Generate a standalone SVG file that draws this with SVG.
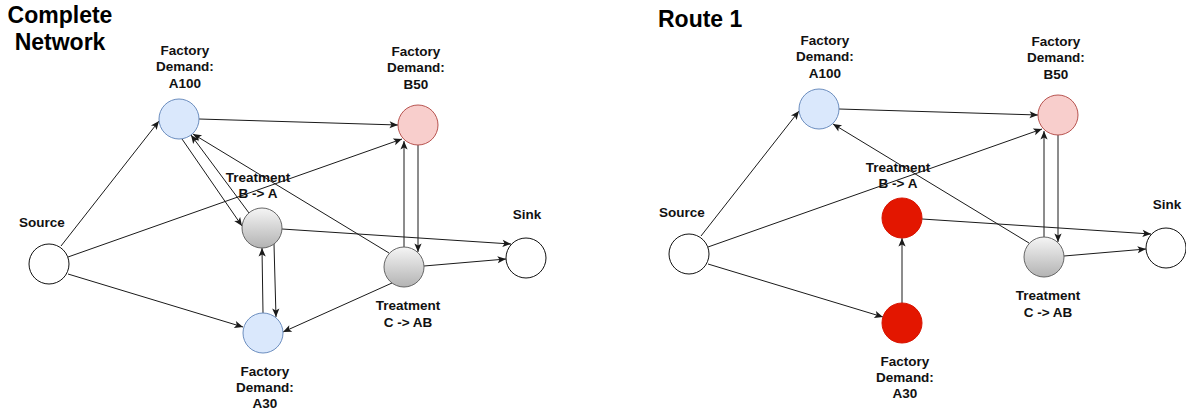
<svg xmlns="http://www.w3.org/2000/svg" width="1186" height="414" viewBox="0 0 1186 414">
  <style>
    .lbl{font-family:"Liberation Sans",Arial,sans-serif;font-weight:bold;font-size:13.5px;fill:#111;text-anchor:middle}
    .title{font-family:"Liberation Sans",Arial,sans-serif;font-weight:bold;font-size:23px;fill:#000}
    .edge{fill:none;stroke:#1a1a1a;stroke-width:1;marker-end:url(#arrow)}
    .plain{fill:#fff;stroke:#111;stroke-width:1}
    .blue{fill:#dae8fc;stroke:#6c8ebf;stroke-width:1}
    .pink{fill:#f8cecc;stroke:#b85450;stroke-width:1}
    .gray{fill:url(#grayGrad);stroke:#666;stroke-width:1}
    .red{fill:#e31600;stroke:#d81300;stroke-width:1}
  </style>
  <defs>
    <linearGradient id="grayGrad" x1="0" y1="0" x2="0" y2="1">
      <stop offset="0" stop-color="#f5f5f5"/>
      <stop offset="1" stop-color="#b3b3b3"/>
    </linearGradient>
    <marker id="arrow" viewBox="-10 -5 11 10" refX="0" refY="0" markerWidth="11" markerHeight="10" markerUnits="userSpaceOnUse" orient="auto">
      <path d="M-8.5,-3.6 L0,0 L-8.5,3.6 L-6.5,0 Z" fill="#1a1a1a"/>
    </marker>
  </defs>

  <rect width="1186" height="414" fill="#fff"/>

  <!-- panel titles -->
  <text class="title" x="60" y="23" text-anchor="middle">Complete</text>
  <text class="title" x="60" y="50" text-anchor="middle">Network</text>
  <text class="title" x="658" y="27">Route 1</text>

  <!-- ===== Complete network ===== -->
  <g id="full-edges">
    <path class="edge" d="M61,246 L159,121"/>
    <path class="edge" d="M68,257 L402,139"/>
    <path class="edge" d="M68,274 L243,327"/>
    <path class="edge" d="M199,119 L398,125"/>
    <path class="edge" d="M182,139 L242,226"/>
    <path class="edge" d="M249,213 L191,135"/>
    <path class="edge" d="M389,253 L193,134"/>
    <path class="edge" d="M282,229 L511,244"/>
    <path class="edge" d="M424,266 L506,259"/>
    <path class="edge" d="M404,247 L404,141"/>
    <path class="edge" d="M418,145 L418,252"/>
    <path class="edge" d="M274,244 L276,317"/>
    <path class="edge" d="M263,313 L262,248"/>
    <path class="edge" d="M392,283 L283,332"/>
  </g>

  <g id="full-source">
    <circle class="plain" cx="49" cy="264" r="20"/>
    <text class="lbl" x="42" y="227">Source</text>
  </g>
  <g id="full-demand-a100">
    <circle class="blue" cx="179" cy="119" r="20"/>
    <text class="lbl" x="185" y="55">Factory</text>
    <text class="lbl" x="185" y="71">Demand:</text>
    <text class="lbl" x="185" y="87.5">A100</text>
  </g>
  <g id="full-demand-b50">
    <circle class="pink" cx="418" cy="125" r="20"/>
    <text class="lbl" x="416" y="56">Factory</text>
    <text class="lbl" x="416" y="72">Demand:</text>
    <text class="lbl" x="416" y="88.5">B50</text>
  </g>
  <g id="full-treatment-ba">
    <circle class="gray" cx="262" cy="228" r="20"/>
    <text class="lbl" x="258" y="182">Treatment</text>
    <text class="lbl" x="258" y="198">B -&gt; A</text>
  </g>
  <g id="full-treatment-cab">
    <circle class="gray" cx="404" cy="267" r="20"/>
    <text class="lbl" x="408" y="310">Treatment</text>
    <text class="lbl" x="408" y="326.5">C -&gt; AB</text>
  </g>
  <g id="full-sink">
    <circle class="plain" cx="526" cy="258" r="20"/>
    <text class="lbl" x="527" y="219">Sink</text>
  </g>
  <g id="full-demand-a30">
    <circle class="blue" cx="263" cy="333" r="20"/>
    <text class="lbl" x="265" y="376">Factory</text>
    <text class="lbl" x="265" y="392">Demand:</text>
    <text class="lbl" x="265" y="408">A30</text>
  </g>

  <!-- ===== Route 1 (same layout, shifted) ===== -->
  <g transform="translate(640,-10)">
    <g id="route-edges">
      <path class="edge" d="M61,246 L159,121"/>
      <path class="edge" d="M68,257 L402,139"/>
      <path class="edge" d="M68,274 L243,327"/>
      <path class="edge" d="M199,119 L398,125"/>
      <path class="edge" d="M389,253 L193,134"/>
      <path class="edge" d="M282,229 L511,244"/>
      <path class="edge" d="M424,266 L506,259"/>
      <path class="edge" d="M404,247 L404,141"/>
      <path class="edge" d="M418,145 L418,252"/>
      <path class="edge" d="M262,313 L262,248"/>
    </g>

    <g id="route-source">
      <circle class="plain" cx="49" cy="264" r="20"/>
      <text class="lbl" x="42" y="227">Source</text>
    </g>
    <g id="route-demand-a100">
      <circle class="blue" cx="179" cy="119" r="20"/>
      <text class="lbl" x="185" y="55">Factory</text>
      <text class="lbl" x="185" y="71">Demand:</text>
      <text class="lbl" x="185" y="87.5">A100</text>
    </g>
    <g id="route-demand-b50">
      <circle class="pink" cx="418" cy="125" r="20"/>
      <text class="lbl" x="416" y="56">Factory</text>
      <text class="lbl" x="416" y="72">Demand:</text>
      <text class="lbl" x="416" y="88.5">B50</text>
    </g>
    <g id="route-treatment-ba">
      <circle class="red" cx="262" cy="228" r="20"/>
      <text class="lbl" x="258" y="182">Treatment</text>
      <text class="lbl" x="258" y="198">B -&gt; A</text>
    </g>
    <g id="route-treatment-cab">
      <circle class="gray" cx="404" cy="267" r="20"/>
      <text class="lbl" x="408" y="310">Treatment</text>
      <text class="lbl" x="408" y="326.5">C -&gt; AB</text>
    </g>
    <g id="route-sink">
      <circle class="plain" cx="526" cy="258" r="20"/>
      <text class="lbl" x="527" y="219">Sink</text>
    </g>
    <g id="route-demand-a30">
      <circle class="red" cx="262" cy="333" r="20"/>
      <text class="lbl" x="265" y="376">Factory</text>
      <text class="lbl" x="265" y="392">Demand:</text>
      <text class="lbl" x="265" y="408">A30</text>
    </g>
  </g>
</svg>
